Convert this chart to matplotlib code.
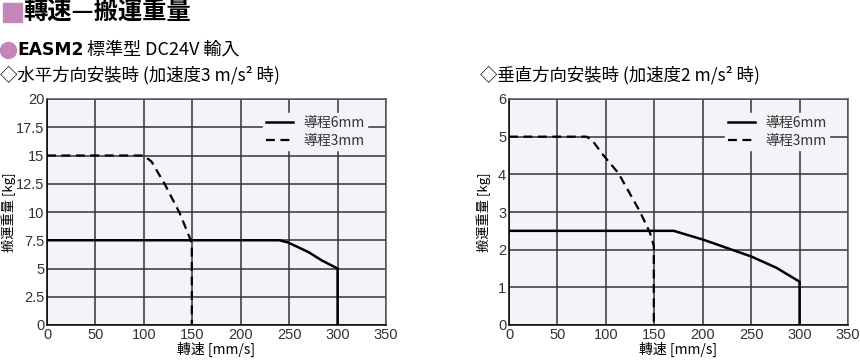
import matplotlib.pyplot as plt
from matplotlib.patches import Rectangle, Ellipse

# data
h_speed_6mm = [0, 240, 249, 270, 284, 300, 300]
h_load_6mm = [7.5, 7.5, 7.3, 6.45, 5.7, 5.0, 0]
h_speed_3mm = [0, 100, 108, 122, 137, 147, 149.5, 149.5]
h_load_3mm = [15, 15, 14.45, 12.4, 9.9, 7.8, 7.2, 0]

v_speed_6mm = [0, 170, 200, 230, 250, 276, 300, 300]
v_load_6mm = [2.5, 2.5, 2.27, 2.0, 1.82, 1.52, 1.15, 0]
v_speed_3mm = [0, 80, 86, 97, 113, 135, 145.5, 149.5, 149.5]
v_load_3mm = [5, 5, 4.9, 4.52, 4.03, 3.02, 2.45, 2.1, 0]

xticks = [0, 50, 100, 150, 200, 250, 300, 350]
h_yticks = [0, 2.5, 5, 7.5, 10, 12.5, 15, 17.5, 20]
h_yticklabels = ['0', '2.5', '5', '7.5', '10', '12.5', '15', '17.5', '20']
v_yticks = [0, 1, 2, 3, 4, 5, 6]

cjk = ['Noto Sans CJK JP', 'DejaVu Sans']
num = ['Liberation Sans Narrow', 'Liberation Sans', 'Noto Sans CJK JP']
pink = '#c485bb'
bg = '#f5f2f8'

fig = plt.figure(figsize=(8.6, 3.6), dpi=100)


def make_chart(rect, s6, l6, s3, l3, yticks, ylabels, ymax, ylab_x):
    ax = fig.add_axes(rect)
    ax.set_facecolor(bg)
    ax.plot(s6, l6, color='black', lw=1.8, label='導程6mm', zorder=3)
    ax.plot(s3, l3, color='black', lw=1.6, ls=(0, (4, 2.5)), label='導程3mm', zorder=3)
    ax.set_xlim(0, 350)
    ax.set_ylim(0, ymax)
    ax.set_xticks(xticks)
    ax.set_yticks(yticks)
    ax.set_yticklabels(ylabels)
    ax.grid(True, color='#333333', lw=1.1)
    ax.set_axisbelow(True)
    ax.tick_params(length=0, pad=2, labelsize=10.5)
    for lab in ax.get_xticklabels() + ax.get_yticklabels():
        lab.set_family(num)
        lab.set_color('#333333')
    for sp in ax.spines.values():
        sp.set_color('#555555')
        sp.set_linewidth(1.1)
    ax.spines['left'].set_color('black')
    ax.spines['bottom'].set_color('black')
    ax.set_xlabel('轉速 [mm/s]', family=cjk, fontsize=10, labelpad=0)
    ax.set_ylabel('搬運重量 [kg]', family=cjk, fontsize=9.5)
    ax.yaxis.set_label_coords(ylab_x, 0.5)
    leg = ax.legend(loc='upper right', bbox_to_anchor=(0.965, 0.97), frameon=True,
                    facecolor=bg, edgecolor=bg, framealpha=1, handlelength=2.0,
                    handletextpad=0.7, borderpad=0.2, labelspacing=0.3,
                    fancybox=False, prop={'family': cjk, 'size': 10})
    for t in leg.get_texts():
        t.set_color('#333333')
    return ax


make_chart([47 / 860, 35 / 360, 339 / 860, 226 / 360],
           h_speed_6mm, h_load_6mm, h_speed_3mm, h_load_3mm,
           h_yticks, h_yticklabels, 20, -0.092)
make_chart([509 / 860, 35 / 360, 339 / 860, 226 / 360],
           v_speed_6mm, v_load_6mm, v_speed_3mm, v_load_3mm,
           v_yticks, [str(v) for v in v_yticks], 6, -0.054)

# header
fig.patches.append(Rectangle((3 / 860, 1 - 22 / 360), 19 / 860, 19 / 360,
                             transform=fig.transFigure, color=pink))
fig.text(23 / 860, 1 - 13 / 360, '轉速—搬運重量', family=cjk, fontsize=17.5,
         fontweight='bold', va='center', ha='left')
fig.patches.append(Ellipse((8.5 / 860, 1 - 50.5 / 360), 16 / 860, 16 / 360,
                           transform=fig.transFigure, color=pink))
fig.text(17 / 860, 1 - 50 / 360, 'EASM2', family='DejaVu Sans', fontsize=12.3,
         fontweight='bold', va='center', ha='left')
fig.text(87 / 860, 1 - 50 / 360, '標準型 DC24V 輸入', family=cjk, fontsize=13,
         va='center', ha='left')
fig.text(0, 1 - 75 / 360, '◇水平方向安裝時 (加速度3 m/s² 時)', family=cjk,
         fontsize=12.5, va='center', ha='left')
fig.text(480 / 860, 1 - 75 / 360, '◇垂直方向安裝時 (加速度2 m/s² 時)', family=cjk,
         fontsize=12.5, va='center', ha='left')

fig.savefig('out.png', dpi=100)
